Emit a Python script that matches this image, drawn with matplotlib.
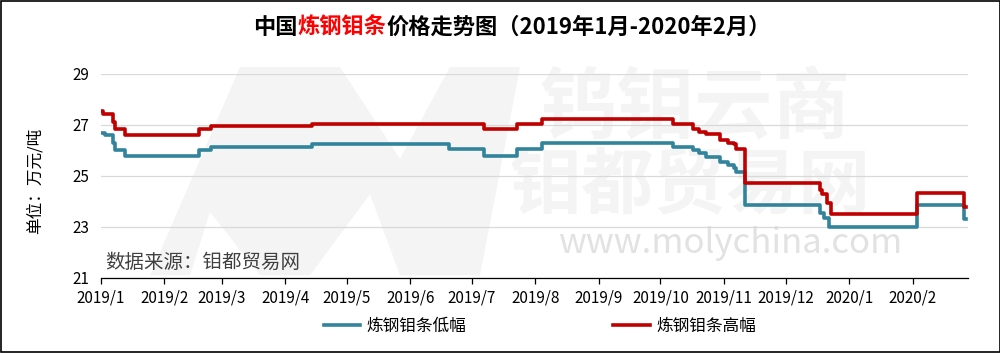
import matplotlib
matplotlib.use("Agg")
import matplotlib.pyplot as plt
import matplotlib.patches as mpatches
import pandas as pn

plt.rcParams["font.family"] = ["Noto Sans CJK SC", "DejaVu Sans"]

# change points (万元/吨), value holds until next date
low_dates = ["2019-01-01", "2019-01-03", "2019-01-07", "2019-01-08", "2019-01-13",
             "2019-02-18", "2019-02-24", "2019-04-14", "2019-06-20", "2019-07-07",
             "2019-07-23", "2019-08-04", "2019-10-07", "2019-10-17", "2019-10-20",
             "2019-10-23", "2019-10-30", "2019-11-03", "2019-11-06", "2019-11-07",
             "2019-11-11", "2019-12-18", "2019-12-20", "2019-12-22", "2020-02-03",
             "2020-02-26"]
low_vals = [26.7, 26.6, 26.3, 26.0, 25.8,
            26.0, 26.12, 26.25, 26.05, 25.8,
            26.05, 26.3, 26.15, 26.02, 25.89,
            25.76, 25.56, 25.43, 25.3, 25.17,
            23.85, 23.55, 23.35, 23.0, 23.85,
            23.3]

high_dates = ["2019-01-01", "2019-01-02", "2019-01-07", "2019-01-08", "2019-01-13",
              "2019-02-18", "2019-02-24", "2019-04-14", "2019-07-07", "2019-07-23",
              "2019-08-04", "2019-10-07", "2019-10-17", "2019-10-20", "2019-10-23",
              "2019-10-30", "2019-11-03", "2019-11-06", "2019-11-07", "2019-11-11",
              "2019-12-18", "2019-12-19", "2019-12-21", "2019-12-23", "2020-02-03",
              "2020-02-26"]
high_vals = [27.55, 27.45, 27.1, 26.85, 26.6,
             26.85, 26.95, 27.05, 26.85, 27.05,
             27.22, 27.05, 26.83, 26.74, 26.63,
             26.41, 26.28, 26.24, 26.05, 24.72,
             24.45, 24.3, 23.95, 23.52, 24.32,
             23.8]
last_day = "2020-02-27"

month_labels = ["2019/1", "2019/2", "2019/3", "2019/4", "2019/5", "2019/6", "2019/7",
                "2019/8", "2019/9", "2019/10", "2019/11", "2019/12", "2020/1", "2020/2"]
yticks = [21, 23, 25, 27, 29]

low_name = "炼钢钼条低幅"
high_name = "炼钢钼条高幅"
blue = "#31849B"
red = "#C00000"


def stepped(dates, vals):
    d = list(pn.to_datetime(dates)) + [pn.Timestamp(last_day)]
    v = list(vals) + [vals[-1]]
    return d, v


fig = plt.figure(figsize=(10, 3.53), dpi=100)
fig.patch.set_facecolor("white")
ax = fig.add_axes([0.1007, 0.2125, 0.8673, 0.5779])
ax.patch.set_visible(False)

# faint watermark behind everything
wm = "#F4F4F4"
fig.patches.append(mpatches.Polygon(
    [(0.15, 0.22), (0.24, 0.81), (0.34, 0.81), (0.40, 0.55), (0.45, 0.81),
     (0.52, 0.81), (0.48, 0.22), (0.40, 0.22), (0.37, 0.45), (0.31, 0.22),
     (0.26, 0.22), (0.21, 0.40), (0.19, 0.22)],
    closed=True, transform=fig.transFigure, facecolor=wm, edgecolor="none", zorder=-2))
fig.text(0.695, 0.69, "钨钼云商", fontsize=56, fontweight="bold", color=wm,
         ha="center", va="center", zorder=-1)
fig.text(0.69, 0.47, "钼都贸易网", fontsize=52, fontweight="bold", color=wm,
         ha="center", va="center", zorder=-1)
fig.text(0.73, 0.31, "www.molychina.com", fontsize=25, color="#E2E2E2",
         ha="center", va="center", zorder=-1)

ld, lv = stepped(low_dates, low_vals)
hd, hv = stepped(high_dates, high_vals)
ax.plot(ld, lv, drawstyle="steps-post", color=blue, lw=2.6, label=low_name, zorder=3)
ax.plot(hd, hv, drawstyle="steps-post", color=red, lw=2.6, label=high_name, zorder=3)

ax.set_ylim(21, 29)
ax.set_yticks(yticks)
ax.set_xlim(pn.Timestamp("2019-01-01"), pn.Timestamp("2020-02-28"))
ax.set_xticks(pn.date_range("2019-01-01", periods=len(month_labels), freq="MS"))
ax.set_xticklabels(month_labels)
ax.grid(axis="y", color="#D9D9D9", lw=0.9)
ax.set_axisbelow(True)
for s in ["left", "right", "top"]:
    ax.spines[s].set_visible(False)
ax.spines["bottom"].set_color("black")
ax.spines["bottom"].set_linewidth(0.9)
ax.tick_params(axis="x", direction="out", length=4.5, width=0.9, pad=4, labelsize=11)
ax.tick_params(axis="y", length=0, pad=8, labelsize=11)

fig.text(0.035, 0.487, "单位：万元/吨", rotation=90, fontsize=12, ha="center", va="center")
fig.text(0.105, 0.258, "数据来源：钼都贸易网", fontsize=14, color="#404040",
         ha="left", va="center")

fig.legend(loc="center", bbox_to_anchor=(0.54, 0.0765), ncol=2, frameon=False,
           fontsize=12, handlelength=2.2, handletextpad=0.4, columnspacing=8.8)

# title in three colour pieces
pieces = [("中国", "black"), ("炼钢钼条", "#FF0000"),
          ("价格走势图（2019年1月-2020年2月）", "black")]
renderer = fig.canvas.get_renderer()
texts = []
x = 0.0
for s, c in pieces:
    t = fig.text(x, 0.9235, s, fontsize=16, fontweight="bold", color=c, va="center")
    w = t.get_window_extent(renderer).width / fig.bbox.width
    texts.append((t, x))
    x += w
start = 0.512 - x / 2
for t, off in texts:
    t.set_x(start + off)

fig.patches.append(mpatches.Rectangle((0.0005, 0.0015), 0.999, 0.997, transform=fig.transFigure,
                                      fill=False, edgecolor="black", lw=1.2, zorder=10))

fig.savefig("out.png", dpi=100)
